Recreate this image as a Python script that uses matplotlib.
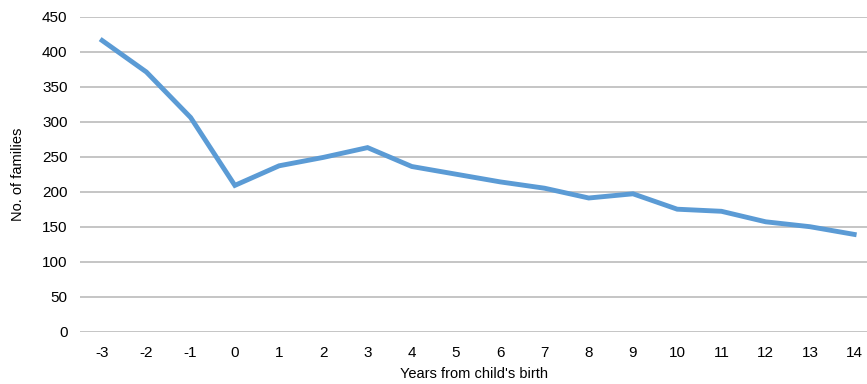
import matplotlib
matplotlib.use("Agg")
import matplotlib.pyplot as plt

years = [-3, -2, -1, 0, 1, 2, 3, 4, 5, 6, 7, 8, 9, 10, 11, 12, 13, 14]
families = [416, 371, 306, 209, 237, 249, 263, 236, 225, 214, 205, 191, 197, 175, 172, 157, 150, 139]
y_ticks = [0, 50, 100, 150, 200, 250, 300, 350, 400, 450]

plt.rcParams['font.family'] = ['Liberation Sans', 'DejaVu Sans']

fig = plt.figure(figsize=(8.67, 3.84), dpi=100)
ax = fig.add_axes([0.0923, 0.1362, 0.9077, 0.8203])

ax.plot(years, families, color='#5b9bd5', lw=3.5, solid_joinstyle='miter', zorder=3)

ax.set_xlim(-3.5, 14.29)
ax.set_ylim(0, 450)
ax.set_yticks(y_ticks)
ax.set_xticks(years)
ax.set_xticklabels([str(y) for y in years])
ax.grid(axis='y', color='#c0c0c0', lw=1.3)
ax.set_axisbelow(True)
for s in ax.spines.values():
    s.set_visible(False)
ax.tick_params(axis='both', length=0, labelsize=11, colors='#000000')
ax.tick_params(axis='x', pad=10)
ax.tick_params(axis='y', pad=9)

ax.set_xlabel("Years from child's birth", fontsize=10.5, labelpad=5)
ax.set_ylabel("No. of families", fontsize=10.5, labelpad=12)

fig.savefig('out.png', dpi=100)
